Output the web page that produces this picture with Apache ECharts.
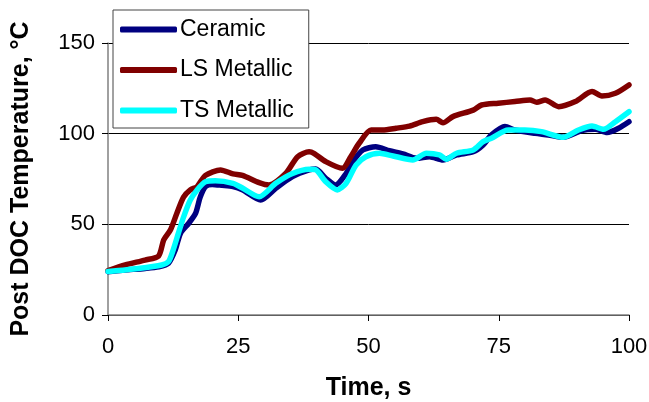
<!DOCTYPE html>
<html>
<head>
<meta charset="utf-8">
<script src="https://cdn.jsdelivr.net/npm/echarts@6/dist/echarts.min.js"></script>
<style>
  html, body { margin: 0; padding: 0; background: #fff; }
  #chart { width: 649px; height: 402px; }
</style>
</head>
<body>
<div id="chart"></div>
<script>
// values
var ceramicTime = [0, 3.3, 7.1, 9.7, 11.6, 12.9, 13.9, 15.5, 16.8, 17.7, 18.7, 20, 21.9, 24, 25.8, 29.3, 32.2, 35.4, 38.6, 39.9, 41.8, 43.7, 45.7, 47, 48.9, 51.4, 54, 56.6, 59.2, 61.7, 64.3, 66.9, 70.1, 72, 73.6, 76.2, 78.1, 82, 84.5, 87.4, 90.9, 93.5, 95.8, 98, 100];
var ceramicTemp = [23.9, 24.8, 25.7, 26.6, 28.5, 35.8, 45, 50.6, 56, 65, 70.8, 72, 71.5, 70.8, 69, 63.4, 69.9, 76.3, 80, 80.5, 75.4, 71.7, 78, 84.6, 91, 92.8, 90.6, 88.8, 86.4, 87.3, 85.5, 88.3, 90, 93.8, 99.3, 103.9, 102, 100.2, 99.3, 98, 101.7, 102.4, 100.6, 103, 106.6];

var lsTime = [0, 3.3, 7.1, 9.7, 10.7, 12, 13.2, 14.5, 15.8, 17.1, 18.7, 21.6, 24, 25.8, 29, 30.9, 34.1, 36.4, 38.6, 39.6, 41.8, 45, 46.6, 48.2, 50.5, 52.7, 55.3, 57.9, 60.4, 63, 64.3, 66.2, 70.1, 71.7, 74.9, 78.1, 81, 82.3, 83.9, 86.5, 89.7, 92.9, 94.8, 97.4, 100];
var lsTemp = [24.5, 27.6, 30.3, 32.5, 41.4, 47, 56, 65, 69, 70.8, 77, 80, 77.8, 77, 73, 71.7, 78, 87.3, 90, 89, 84.6, 80.9, 87.3, 94.7, 102, 102, 103, 104.2, 106.6, 107.9, 106, 109.4, 113, 115.8, 116.8, 117.7, 118.6, 117.3, 118.6, 114.9, 117.7, 123.2, 120.8, 122.3, 126.9];

var tsTime = [0, 5.8, 10.3, 11.6, 12.5, 13.5, 14.5, 15.8, 17.1, 18.7, 20.6, 24, 25.8, 29, 32.2, 35.4, 38.6, 39.9, 41.8, 44, 45.7, 47.6, 49.5, 52.1, 54.7, 58.5, 61.1, 63.6, 64.9, 66.9, 70.1, 72, 73.6, 76.8, 80, 83.2, 87.4, 90.3, 92.9, 95.1, 97.4, 100];
var tsTemp = [24, 25.7, 27.6, 29.4, 35.8, 45, 54, 63.4, 69, 73.5, 74, 72.6, 70, 65.2, 72.6, 78, 80.4, 80, 73.5, 69, 72.6, 82.7, 87.3, 89.2, 87.7, 85.5, 89.2, 88.3, 85.9, 89.2, 91, 95.6, 97.5, 102, 102, 101.1, 98, 102, 104.2, 102.4, 106.6, 112.1];

var xTicks = [0, 25, 50, 75, 100];
var yTicks = [0, 50, 100, 150];

function pairs(xs, ys) {
    return xs.map(function (x, i) { return [x, ys[i]]; });
}

var font = 'Arial, "Liberation Sans", sans-serif';

function lineSeries(name, color, xs, ys) {
    return {
        name: name,
        type: 'line',
        data: pairs(xs, ys),
        showSymbol: false,
        smooth: 0.25,
        lineStyle: { color: color, width: 5.5, cap: 'round', join: 'round' },
        itemStyle: { color: color },
        animation: false
    };
}

var option = {
    animation: false,
    textStyle: { fontFamily: font },
    grid: { left: 108, right: 20, top: 43, bottom: 87, outerBoundsMode: 'none', containLabel: false },
    legend: {
        orient: 'vertical',
        left: 113,
        top: 10,
        padding: [8, 15, 6, 7],
        itemGap: 17.5,
        itemWidth: 57,
        itemHeight: 6,
        icon: 'roundRect',
        backgroundColor: '#fff',
        borderColor: '#444',
        borderWidth: 1,
        textStyle: { fontSize: 23, color: '#000', fontFamily: font, padding: [0, 0, 0, -2], lineHeight: 23 },
        data: ['Ceramic', 'LS Metallic', 'TS Metallic']
    },
    xAxis: {
        type: 'value',
        min: 0, max: 100, interval: 25,
        name: 'Time, s',
        nameLocation: 'middle',
        nameGap: 61,
        nameTextStyle: { fontSize: 25, fontWeight: 'bold', color: '#000', fontFamily: font },
        axisLine: { lineStyle: { color: '#808080', width: 1.5 } },
        axisTick: { show: true, length: 6, inside: false, lineStyle: { color: '#000', width: 1 } },
        axisLabel: {
            fontSize: 22, color: '#000', margin: 21, fontFamily: font,
            formatter: function (v) { return xTicks.indexOf(v) >= 0 ? String(v) : ''; }
        },
        splitLine: { show: false }
    },
    yAxis: {
        type: 'value',
        min: 0, max: 150, interval: 50,
        name: 'Post DOC Temperature, °C',
        nameLocation: 'middle',
        nameGap: 74,
        nameRotate: 90,
        nameTextStyle: { fontSize: 25, fontWeight: 'bold', color: '#000', fontFamily: font },
        axisLine: { show: true, lineStyle: { color: '#808080', width: 1.5 } },
        axisTick: { show: true, length: 6, inside: false, lineStyle: { color: '#000', width: 1 } },
        axisLabel: {
            fontSize: 22, color: '#000', margin: 13, fontFamily: font,
            formatter: function (v) { return yTicks.indexOf(v) >= 0 ? String(v) : ''; }
        },
        splitLine: { show: true, lineStyle: { color: '#000', width: 1 } }
    },
    series: [
        lineSeries('Ceramic', '#000080', ceramicTime, ceramicTemp),
        lineSeries('LS Metallic', '#800000', lsTime, lsTemp),
        lineSeries('TS Metallic', '#00FFFF', tsTime, tsTemp)
    ]
};

echarts.init(document.getElementById('chart')).setOption(option);
</script>
</body>
</html>
